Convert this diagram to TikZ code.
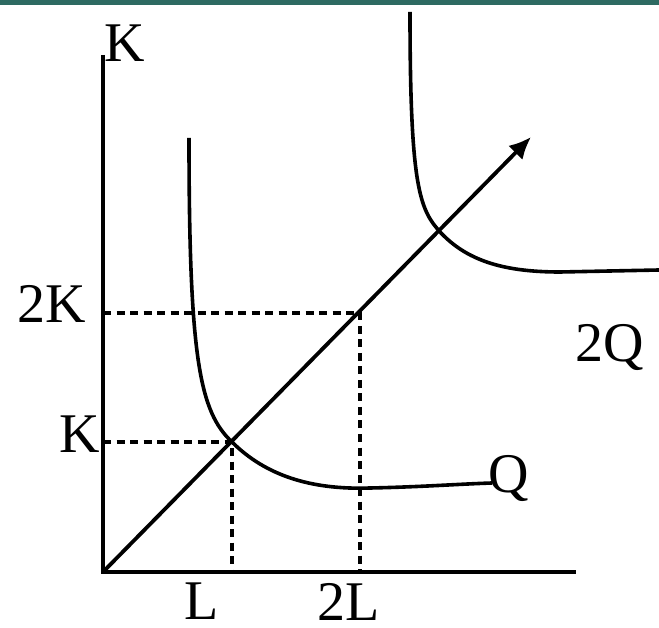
\documentclass[tikz,border=0pt]{standalone}
\usepackage{fontspec}
\setmainfont{Liberation Serif}
\usetikzlibrary{arrows.meta}
\definecolor{barteal}{HTML}{2E6A62}
\begin{document}
\begin{tikzpicture}[x=1pt,y=-1pt,
  axisline/.style={line width=4pt},
  curveline/.style={line width=3.6pt},
  guide/.style={line width=3.2pt,dash pattern=on 8pt off 5.5pt},
  lbl/.style={inner sep=0pt,anchor=base,text depth=0pt,font=\fontsize{56}{60}\selectfont}]
\useasboundingbox (0,0) rectangle (659,628);
\fill[barteal] (0,0) rectangle (659,5);
% coordinates
\coordinate (O) at (103,572);
\coordinate (Ytop) at (103,55);
\coordinate (Xend) at (576,572);
\coordinate (A) at (232,442);
\coordinate (B) at (360,313);
\coordinate (Tip) at (531,137);
\coordinate (Ka) at (103,442);
\coordinate (Kb) at (103,313);
\coordinate (La) at (232,572);
\coordinate (Lb) at (360,572);
% guides
\draw[guide] (Ka) -- (A) -- (La);
\draw[guide] (Kb) -- (B) -- (Lb);
% axes
\draw[axisline,line join=miter] (Ytop) -- (O) -- (Xend);
% ray
\draw[line width=3.8pt,-{Latex[length=22pt,width=20pt]}] (O) -- (Tip);
% Q curve
\draw[curveline] (189,138) .. controls (189,360) and (200,412) .. (A)
  .. controls (265,475) and (310,490) .. (370,488) .. controls (420,487) and (460,484) .. (492,483);
% 2Q curve
\draw[curveline] (410,12) .. controls (410,190) and (420,210) .. (441,233)
  .. controls (466,259) and (500,272) .. (560,272) -- (659,270);
% labels
\node[lbl] (kt) at (125,62) {K};
\node[lbl] (k2) at (52,323) {2K};
\node[lbl] (k1) at (80,452) {K};
\node[lbl] (l1) at (202,619) {L};
\node[lbl] (l2) at (349,620) {2L};
\node[lbl] (q1) at (509,492) {Q};
\node[lbl] (q2) at (610,362) {2Q};
\end{tikzpicture}
\end{document}
